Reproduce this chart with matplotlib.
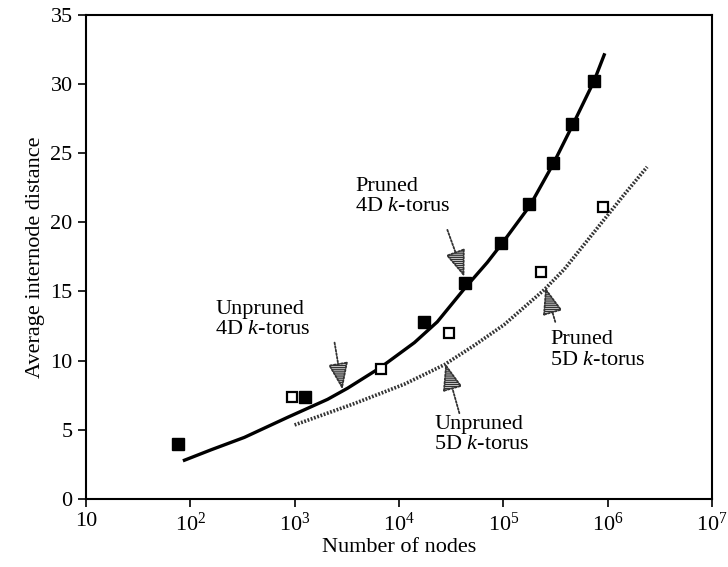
import matplotlib
matplotlib.use("Agg")
import matplotlib.pyplot as plt
import numpy as np

plt.rcParams['font.family'] = ['Liberation Serif', 'DejaVu Serif']
plt.rcParams['mathtext.fontset'] = 'custom'
plt.rcParams['mathtext.rm'] = 'Liberation Serif'
plt.rcParams['mathtext.it'] = 'Liberation Serif:italic'

# pruned 4D k-torus (filled squares) and fitted curve
pruned4_nodes = [76, 1270, 17500, 43000, 95000, 178000, 302000, 457000, 740000]
pruned4_dist = [4.0, 7.4, 12.8, 15.6, 18.5, 21.3, 24.3, 27.1, 30.2]
curve4_nodes = [88, 158, 330, 857, 2070, 3210, 6650, 14060, 23300, 42400, 70300,
                98000, 180000, 300000, 460000, 740000, 927000]
curve4_dist = [2.8, 3.55, 4.45, 5.9, 7.2, 8.0, 9.5, 11.3, 12.8, 15.2, 17.1,
               18.5, 21.2, 24.2, 27.0, 30.2, 32.1]

# pruned 5D k-torus (open squares) and fitted curve
pruned5_nodes = [935, 6800, 30000, 230000, 910000]
pruned5_dist = [7.4, 9.4, 12.0, 16.4, 21.1]
curve5_nodes = [1000, 3750, 11300, 27200, 52700, 102000, 245000, 384000, 927000, 1440000, 2390000]
curve5_dist = [5.35, 6.9, 8.3, 9.7, 11.1, 12.6, 15.1, 16.6, 20.2, 22.0, 24.0]

xticks = [10, 1e2, 1e3, 1e4, 1e5, 1e6, 1e7]
xticklabels = ['10', r'$10^{2}$', r'$10^{3}$', r'$10^{4}$', r'$10^{5}$', r'$10^{6}$', r'$10^{7}$']
yticks = [0, 5, 10, 15, 20, 25, 30, 35]

fig = plt.figure(figsize=(7.28, 5.67), dpi=100)
ax = fig.add_axes([0.118, 0.12, 0.86, 0.854])

ax.plot(curve4_nodes, curve4_dist, color='black', lw=2.4, solid_joinstyle='round')
ax.plot(curve5_nodes, curve5_dist, color='#333333', lw=2.6, linestyle=(0, (0.5, 0.45)))
ax.plot(pruned4_nodes, pruned4_dist, 's', color='black', ms=8.5, mec='black')
ax.plot(pruned5_nodes, pruned5_dist, 's', mfc='white', mec='black', ms=7.5, mew=1.6)

ax.set_xscale('log')
ax.set_xlim(10, 1e7)
ax.set_ylim(0, 35)
ax.set_xticks(xticks)
ax.set_xticklabels(xticklabels)
ax.xaxis.set_minor_locator(matplotlib.ticker.NullLocator())
ax.set_yticks(yticks)
ax.tick_params(labelsize=16, direction='out', length=6, width=1.2)
for s in ax.spines.values():
    s.set_linewidth(1.5)

ax.set_xlabel('Number of nodes', fontsize=16, labelpad=2)
ax.set_ylabel('Average internode distance', fontsize=16, labelpad=4)

# annotations: (text, text pos, arrow tail, arrow head)
labels = ['Pruned\n4D $\\mathit{k}$-torus', 'Unpruned\n4D $\\mathit{k}$-torus',
          'Pruned\n5D $\\mathit{k}$-torus', 'Unpruned\n5D $\\mathit{k}$-torus']
label_pos = [(10**3.58, 23.3), (10**2.24, 14.4), (10**5.45, 12.2), (10**4.34, 6.1)]
arrow_tail = [(10**4.464, 19.45), (10**3.383, 11.3), (10**5.498, 12.8), (10**4.579, 6.2)]
arrow_head = [(10**4.627, 16.05), (10**3.459, 7.9), (10**5.402, 15.3), (10**4.445, 9.8)]

for txt, pos, tail, head in zip(labels, label_pos, arrow_tail, arrow_head):
    ax.text(pos[0], pos[1], txt, fontsize=16, ha='left', va='top', linespacing=1.1)
    ax.annotate('', xy=head, xytext=tail,
                arrowprops=dict(arrowstyle='-|>,head_length=1.2,head_width=0.45',
                                mutation_scale=14, linestyle=(0, (1, 1)),
                                lw=1.3, facecolor='white', edgecolor='#333333',
                                hatch='--------', shrinkA=0, shrinkB=0))

fig.savefig('out.png', dpi=100)
